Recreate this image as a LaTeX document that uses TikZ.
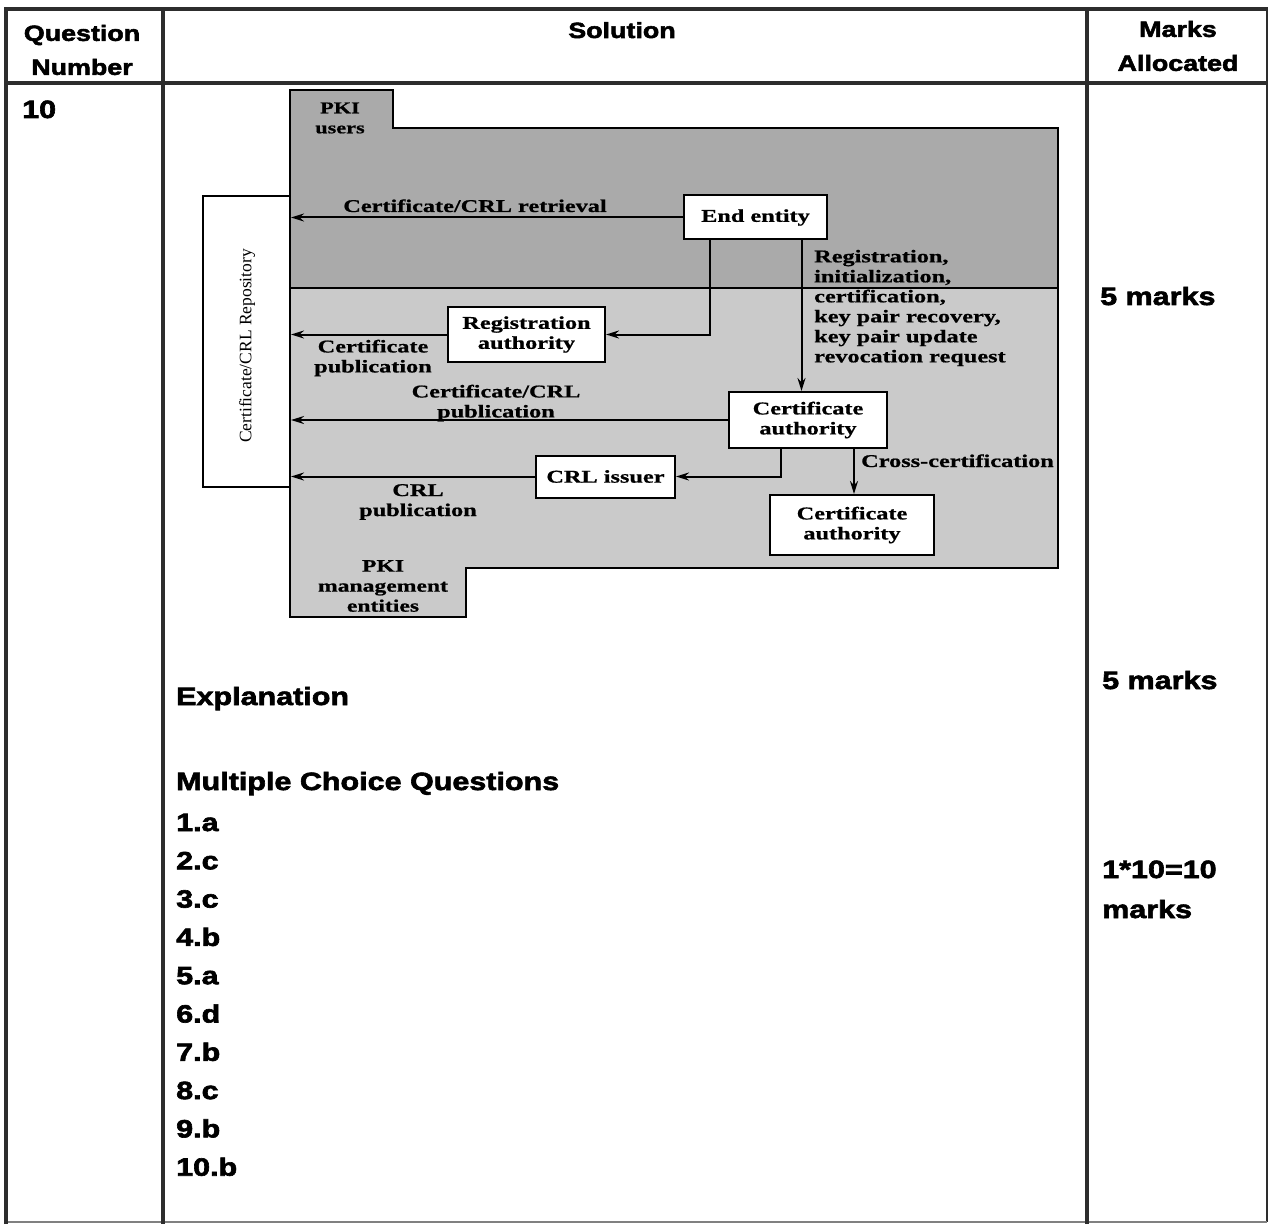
\documentclass[tikz,border=0pt]{standalone}
\usepackage{fontspec}
\usepackage{tikz}
\usetikzlibrary{arrows.meta}
\setmainfont{Liberation Serif}
\newfontfamily\heavyfont{Liberation Sans}[BoldFeatures={FakeStretch=1.22,FakeBold=2.5}]
\newfontfamily\figfont{Liberation Serif}[BoldFeatures={FakeStretch=1.35,FakeBold=0.8}]
\definecolor{usersgray}{RGB}{170,170,170}
\definecolor{mgmtgray}{RGB}{202,202,202}
\definecolor{rulegray}{RGB}{45,45,45}

\tikzset{
  hdtext/.style={font=\heavyfont\bfseries\fontsize{22}{34}\selectfont, align=center, inner sep=0pt},
  bodytext/.style={font=\heavyfont\bfseries\fontsize{25}{40}\selectfont, anchor=base west, inner sep=0pt, align=left},
  pkibox/.style={draw, fill=white, line width=2pt, inner sep=0pt, align=center,
    font=\figfont\bfseries\fontsize{18}{20}\selectfont},
  pkilabel/.style={inner sep=0pt, align=center, font=\figfont\bfseries\fontsize{18}{20}\selectfont},
  pkiarrow/.style={line width=2pt, -{Stealth[length=13pt,width=8pt]}},
}

\begin{document}
\begin{tikzpicture}[x=1pt,y=-1pt]
	\useasboundingbox (0,0) rectangle (1272,1225);
	% table rules
	\draw[rulegray, line width=1.5pt] (1267,9) -- (1267,1222);
	\draw[gray, line width=1.5pt] (6,1222) -- (1267,1222);
	\draw[rulegray, line width=4pt] (6,1224) -- (6,9) -- (1268,9);
	\draw[rulegray, line width=4pt] (6,83) -- (1268,83);
	\draw[rulegray, line width=3.5pt] (163,9) -- (163,1224);
	\draw[rulegray, line width=3.5pt] (1087,9) -- (1087,1224);

	\node[hdtext] (hdq) at (82,50) {Question\\Number};
	\node[hdtext, anchor=base] (hds) at (622,38) {Solution};
	\node[hdtext] (hdm) at (1178,46) {Marks\\Allocated};
	\node[bodytext] (qnum) at (22,118) {10};

	% PKI diagram
	\filldraw[fill=usersgray, line width=2pt] (290,90) -- (393,90) -- (393,128) -- (1058,128) -- (1058,288) -- (290,288) -- cycle;
	\filldraw[fill=mgmtgray, line width=2pt] (290,288) -- (1058,288) -- (1058,568) -- (466,568) -- (466,617) -- (290,617) -- cycle;
	\node[pkibox, minimum width=87pt, minimum height=291pt] (repo) at (246.5,341.5) {};
	\node[inner sep=0pt, rotate=90, font=\figfont\fontsize{17.5}{20}\selectfont] (repotext) at (247,346) {Certificate/CRL Repository};

	\node[pkibox, minimum width=143pt, minimum height=44pt] (ee) at (755.5,217.5) {End entity};
	\node[pkibox, minimum width=157pt, minimum height=55pt] (ra) at (526.5,334.5) {Registration\\authority};
	\node[pkibox, minimum width=158pt, minimum height=56pt] (ca) at (808,420) {Certificate\\authority};
	\node[pkibox, minimum width=139pt, minimum height=42pt] (crl) at (605.5,476.5) {CRL issuer};
	\node[pkibox, minimum width=164pt, minimum height=60pt] (ca2) at (852,525) {Certificate\\authority};

	\node[pkilabel, font=\figfont\bfseries\fontsize{16.5}{20}\selectfont] (users) at (340,118) {PKI\\users};
	\node[pkilabel, font=\figfont\bfseries\fontsize{17.5}{20}\selectfont] (mgmt) at (383,586) {PKI\\management\\entities};
	\node[pkilabel, anchor=base] (lretr) at (475,212) {Certificate/CRL retrieval};
	\node[pkilabel, anchor=west, align=left] (lreg) at (814,308) {Registration,\\initialization,\\certification,\\key pair recovery,\\key pair update\\revocation request};
	\node[pkilabel] (lpubra) at (373,358) {Certificate\\publication};
	\node[pkilabel] (lpubca) at (496,403) {Certificate/CRL\\publication};
	\node[pkilabel] (lpubcrl) at (418,502) {CRL\\publication};
	\node[pkilabel, anchor=base west] (lcross) at (861,467) {Cross-certification};

	\draw[pkiarrow] (ee.west) -- (ee.west -| repo.east);
	\draw[pkiarrow] ([xshift=-46pt]ee.south) |- (ra.east);
	\draw[pkiarrow] ([xshift=46pt]ee.south) -- ([xshift=46pt]ee.south |- ca.north);
	\draw[pkiarrow] (ra.west) -- (ra.west -| repo.east);
	\draw[pkiarrow] (ca.west) -- (ca.west -| repo.east);
	\draw[pkiarrow] ([xshift=-27pt]ca.south) |- (crl.east);
	\draw[pkiarrow] ([xshift=46pt]ca.south) -- ([xshift=46pt]ca.south |- ca2.north);
	\draw[pkiarrow] (crl.west) -- (crl.west -| repo.east);

	% answers
	\node[bodytext] (expl) at (176,705) {Explanation};
	\node[bodytext] (mcq) at (176,790) {Multiple Choice Questions};
	\foreach \ans [count=\i] in {a,c,c,b,a,d,b,c,b,b}
		\node[bodytext] (mcq\i) at (176,{831+38.3*(\i-1)}) {\i.\ans};

	\node[bodytext] (mark1) at (1100,305) {5 marks};
	\node[bodytext] (mark2) at (1102,689) {5 marks};
	\node[bodytext] (mark3) at (1102,918) {1*10=10\\marks};
\end{tikzpicture}
\end{document}
